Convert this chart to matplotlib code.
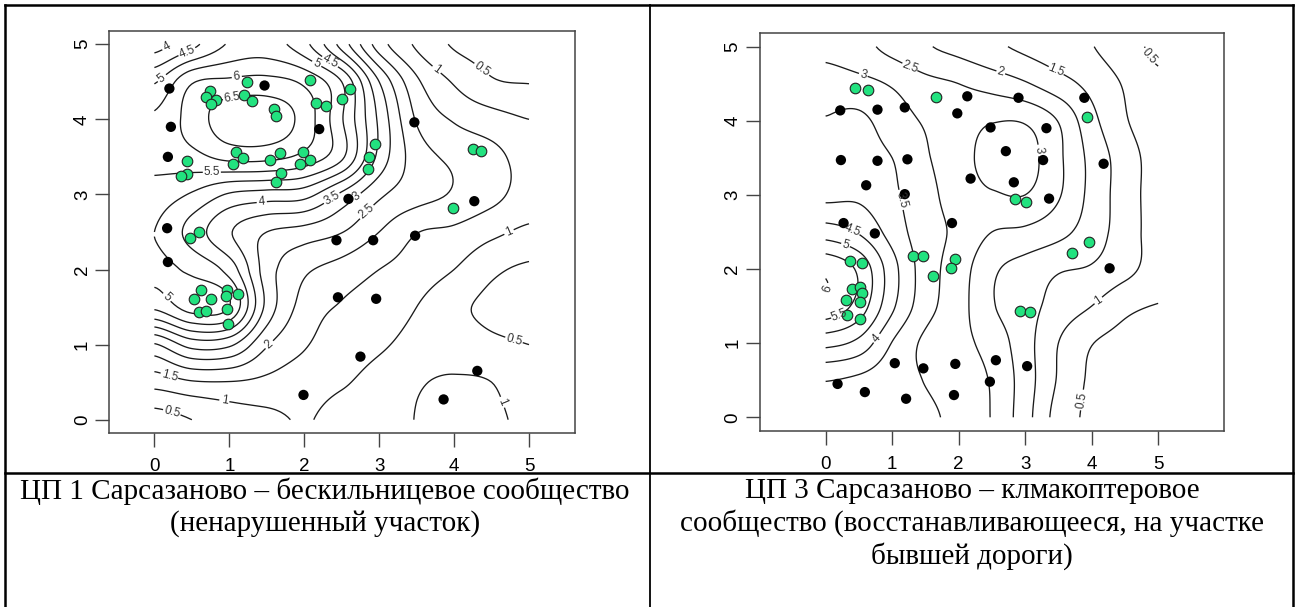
import numpy as np
import matplotlib
matplotlib.use('Agg')
import matplotlib.pyplot as plt
from matplotlib.lines import Line2D

plt.rcParams['font.family'] = ['Liberation Sans', 'DejaVu Sans']

W_PX, H_PX = 1298, 607

grid_ticks = [0, 0.5, 1, 1.5, 2, 2.5, 3, 3.5, 4, 4.5, 5]

# ЦП 1: строки y = 0 .. 5, столбцы x = 0 .. 5
z1 = [
    [0.30, 0.50, 0.75, 0.88, 1.03, 0.82, 0.70, 1.02, 1.18, 1.12, 0.85],
    [1.20, 1.45, 1.48, 1.38, 1.22, 1.05, 0.88, 0.97, 1.05, 1.00, 0.62],
    [2.45, 3.20, 3.10, 2.05, 1.55, 1.25, 1.05, 0.90, 0.78, 0.60, 0.50],
    [4.60, 5.20, 5.00, 2.85, 1.80, 1.45, 1.25, 1.00, 0.62, 0.40, 0.30],
    [5.10, 4.90, 4.30, 2.75, 2.10, 1.80, 1.50, 1.28, 1.00, 0.60, 0.42],
    [5.00, 4.30, 3.55, 3.00, 2.80, 2.52, 2.00, 1.52, 1.40, 1.12, 0.90],
    [5.25, 4.95, 4.45, 4.30, 4.20, 3.40, 2.60, 2.20, 1.95, 1.65, 1.30],
    [5.70, 5.85, 6.15, 6.15, 5.85, 5.10, 3.35, 2.25, 1.90, 1.65, 1.30],
    [5.60, 6.20, 6.80, 6.85, 6.30, 5.05, 3.40, 1.95, 1.45, 1.20, 1.00],
    [4.95, 5.95, 6.10, 6.15, 5.90, 5.00, 3.00, 1.60, 0.95, 0.55, 0.48],
    [3.80, 4.35, 5.05, 5.20, 4.65, 3.30, 1.75, 0.92, 0.45, 0.35, 0.30],
]

# ЦП 3
z3 = [
    [3.30, 3.30, 3.25, 3.10, 2.85, 2.47, 1.70, 0.80, 0.40, 0.30, 0.25],
    [3.52, 3.40, 3.20, 2.98, 2.75, 2.45, 1.75, 0.95, 0.42, 0.30, 0.25],
    [4.65, 4.35, 3.48, 2.90, 2.65, 2.30, 1.70, 1.00, 0.52, 0.35, 0.30],
    [5.85, 5.30, 4.10, 3.20, 2.70, 2.05, 1.70, 1.30, 1.00, 0.62, 0.48],
    [5.90, 5.40, 4.20, 3.25, 2.75, 2.10, 1.80, 1.55, 1.45, 1.15, 0.80],
    [4.75, 4.45, 3.80, 3.20, 2.90, 2.50, 2.40, 2.15, 1.75, 1.25, 0.80],
    [3.85, 3.90, 3.60, 3.15, 2.85, 2.95, 3.00, 2.55, 1.85, 1.25, 0.80],
    [3.52, 3.65, 3.50, 3.05, 2.85, 3.20, 3.20, 2.60, 1.85, 1.25, 0.80],
    [3.52, 3.60, 3.25, 2.95, 2.80, 2.97, 2.95, 2.48, 1.65, 1.05, 0.70],
    [3.25, 3.15, 2.95, 2.65, 2.50, 2.30, 2.05, 1.70, 1.35, 0.95, 0.60],
    [2.85, 2.65, 2.35, 2.05, 1.85, 1.60, 1.40, 1.20, 1.02, 0.70, 0.40],
]

levels1 = [0.5, 1, 1.5, 2, 2.5, 3, 3.5, 4, 4.5, 5, 5.5, 6, 6.5]
levels3 = [0.5, 1, 1.5, 2, 2.5, 3, 3.5, 4, 4.5, 5, 5.5, 6]

# --- точки ---
p1_black_x = [0.20, 0.22, 0.18, 1.47, 2.20, 3.47, 2.59, 4.27, 0.17, 0.18, 2.43, 2.92,
              3.48, 2.45, 2.96, 2.75, 1.99, 4.31, 3.86]
p1_black_y = [4.41, 3.90, 3.50, 4.45, 3.87, 3.96, 2.94, 2.91, 2.55, 2.10, 2.39, 2.39,
              2.45, 1.63, 1.61, 0.84, 0.33, 0.65, 0.27]
p1_green_x = [1.23, 2.08, 0.74, 0.69, 0.82, 0.76, 1.20, 1.30, 1.59, 1.62, 2.51, 2.61,
              2.16, 2.29, 2.94, 2.86, 2.85, 1.09, 1.18, 1.05, 1.54, 1.67, 1.98, 2.08,
              1.95, 1.69, 1.62, 0.44, 0.43, 0.36, 4.25, 4.36, 3.98, 0.48, 0.59, 0.62,
              0.53, 0.76, 0.59, 0.69, 0.97, 0.96, 1.12, 0.97, 0.98]
p1_green_y = [4.50, 4.53, 4.38, 4.30, 4.26, 4.20, 4.33, 4.24, 4.14, 4.05, 4.27, 4.40,
              4.22, 4.18, 3.67, 3.50, 3.34, 3.57, 3.48, 3.40, 3.46, 3.55, 3.57, 3.46,
              3.40, 3.29, 3.16, 3.45, 3.27, 3.24, 3.61, 3.58, 2.82, 2.42, 2.50, 1.73,
              1.61, 1.61, 1.43, 1.45, 1.73, 1.65, 1.68, 1.48, 1.28]

p3_black_x = [0.22, 0.78, 1.19, 2.13, 1.98, 2.90, 3.89, 2.48, 3.32, 2.71, 3.27, 2.83,
              2.18, 3.36, 4.18, 0.23, 0.78, 1.23, 0.61, 1.19, 0.27, 0.74, 1.90, 4.27,
              1.04, 1.47, 1.95, 2.56, 3.03, 2.47, 0.18, 0.59, 1.21, 1.93]
p3_black_y = [4.14, 4.15, 4.18, 4.33, 4.10, 4.31, 4.31, 3.91, 3.90, 3.59, 3.47, 3.17,
              3.22, 2.95, 3.42, 3.47, 3.46, 3.48, 3.13, 3.01, 2.62, 2.48, 2.62, 2.01,
              0.73, 0.66, 0.72, 0.77, 0.69, 0.48, 0.45, 0.34, 0.25, 0.30]
p3_green_x = [0.44, 0.64, 1.66, 3.93, 2.85, 3.01, 3.96, 3.70, 1.31, 1.47, 1.95, 1.89,
              1.61, 0.37, 0.54, 0.39, 0.51, 0.54, 0.31, 0.51, 0.32, 0.51, 2.92, 3.07]
p3_green_y = [4.44, 4.42, 4.32, 4.05, 2.95, 2.91, 2.37, 2.21, 2.18, 2.17, 2.14, 2.02,
              1.91, 2.11, 2.08, 1.73, 1.76, 1.67, 1.58, 1.55, 1.38, 1.32, 1.43, 1.42]

axis_ticks = [0, 1, 2, 3, 4, 5]

caption_left = ['ЦП 1 Сарсазаново – бескильницевое сообщество',
                '(ненарушенный участок)']
caption_right = ['ЦП 3 Сарсазаново – клмакоптеровое',
                 'сообщество (восстанавливающееся, на участке',
                 'бывшей дороги)']


def cubic_matrix(n_in, t):
    # веса кубической свёртки (Catmull-Rom) для плавного рисования изолиний
    w_mat = np.zeros((len(t), n_in))
    i0 = np.floor(t).astype(int)
    frac = t - i0
    rows = np.arange(len(t))
    for k in range(-1, 3):
        idx = np.clip(i0 + k, 0, n_in - 1)
        d = np.abs(frac - k)
        w = np.where(d < 1, 1.5 * d**3 - 2.5 * d**2 + 1,
                     np.where(d < 2, -0.5 * d**3 + 2.5 * d**2 - 4 * d + 2, 0.0))
        np.add.at(w_mat, (rows, idx), w)
    return w_mat


def smooth_field(z, n_fine=151):
    z = np.asarray(z, dtype=float)
    ny, nx = z.shape
    ty = np.linspace(0, ny - 1, n_fine)
    tx = np.linspace(0, nx - 1, n_fine)
    return cubic_matrix(ny, ty) @ z @ cubic_matrix(nx, tx).T


def px_rect(left, top, right, bottom):
    return [left / W_PX, 1 - bottom / H_PX, (right - left) / W_PX, (bottom - top) / H_PX]


def draw_panel(ax, z, levels, bx, by, gx, gy, xlim, ylim):
    zf = smooth_field(z)
    g = np.linspace(grid_ticks[0], grid_ticks[-1], zf.shape[0])
    cs = ax.contour(g, g, zf, levels=levels, colors='#1a1a1a', linewidths=0.95)
    ax.clabel(cs, fmt='%g', fontsize=8.5, inline=True, inline_spacing=3, colors='#333333')
    ax.scatter(bx, by, s=55, c='black', edgecolors='none', zorder=3)
    ax.scatter(gx, gy, s=58, c='#22e27f', edgecolors='#222222', linewidths=0.8, zorder=3)
    ax.set_xlim(*xlim)
    ax.set_ylim(*ylim)
    ax.set_xticks(axis_ticks)
    ax.set_yticks(axis_ticks)
    ax.set_xticklabels([str(t) for t in axis_ticks])
    ax.set_yticklabels([str(t) for t in axis_ticks], rotation=90, va='center')
    ax.tick_params(length=10, width=1.0, color='#444444', labelsize=13.5)
    ax.tick_params(axis='x', pad=8)
    ax.tick_params(axis='y', pad=3)
    for s in ax.spines.values():
        s.set_color('#444444')
        s.set_linewidth(1.1)


fig = plt.figure(figsize=(W_PX / 100, H_PX / 100), dpi=100)

ax1 = fig.add_axes(px_rect(109, 30.7, 574.7, 433))
draw_panel(ax1, z1, levels1, p1_black_x, p1_black_y, p1_green_x, p1_green_y,
           (-0.606, 5.61), (-0.177, 5.18))

ax3 = fig.add_axes(px_rect(759.5, 33.3, 1224, 431))
draw_panel(ax3, z3, levels3, p3_black_x, p3_black_y, p3_green_x, p3_green_y,
           (-0.994, 5.99), (-0.185, 5.18))


# рамка таблицы
def hline(y, x0, x1, lw=1.8):
    fig.add_artist(Line2D([x0 / W_PX, x1 / W_PX], [1 - y / H_PX, 1 - y / H_PX],
                          color='black', linewidth=lw))


def vline(x, y0, y1, lw=1.8):
    fig.add_artist(Line2D([x / W_PX, x / W_PX], [1 - y0 / H_PX, 1 - y1 / H_PX],
                          color='black', linewidth=lw))


hline(5, 5, 1293)
hline(473, 5, 1293)
vline(5, 5, 607)
vline(650, 5, 607, lw=1.3)
vline(1293, 5, 607)

serif = ['Liberation Serif', 'DejaVu Serif']
for i, line in enumerate(caption_left):
    fig.text(325 / W_PX, 1 - (491 + 32.5 * i) / H_PX, line, ha='center', va='center',
             fontsize=21, family=serif)
for i, line in enumerate(caption_right):
    fig.text(972 / W_PX, 1 - (491 + 32.5 * i) / H_PX, line, ha='center', va='center',
             fontsize=21, family=serif)

fig.savefig('out.png', dpi=100)
